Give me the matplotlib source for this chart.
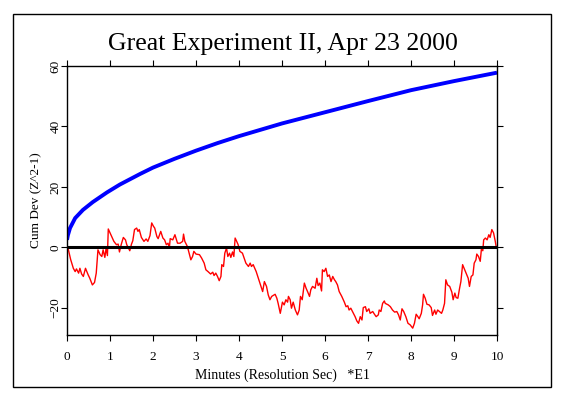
import matplotlib
matplotlib.use("Agg")
import matplotlib.pyplot as plt
from matplotlib.patches import Rectangle

title = "Great Experiment II, Apr 23 2000"
xlabel = "Minutes (Resolution Sec)   *E1"
ylabel = "Cum Dev (Z^2-1)"
xticks = [0, 1, 2, 3, 4, 5, 6, 7, 8, 9, 10]
yticks = [-20, 0, 20, 40, 60]

# probability envelope (blue)
env_t = [0.0, 0.02, 0.07, 0.19, 0.37, 0.6, 0.93, 1.23, 1.7, 2.0, 2.5, 3.0, 3.5, 4.0, 5.0, 6.0, 7.0, 8.0, 9.0, 10.0]
env_v = [2.5, 4.0, 6.4, 9.7, 12.4, 15.0, 18.2, 20.8, 24.3, 26.4, 29.3, 32.0, 34.5, 36.8, 41.0, 44.7, 48.4, 52.0, 55.0, 57.8]

# cumulative deviation (red)
dev_t = [0.0, 0.023, 0.085, 0.147, 0.19, 0.22, 0.27, 0.30, 0.34, 0.38, 0.43, 0.49, 0.53, 0.59, 0.64,
         0.68, 0.72, 0.77, 0.81, 0.84, 0.88, 0.91, 0.94, 0.96, 1.02, 1.09, 1.15, 1.19, 1.22, 1.26,
         1.31, 1.36, 1.39, 1.43, 1.46, 1.50, 1.53, 1.57, 1.62, 1.65, 1.68, 1.73, 1.79, 1.84, 1.88,
         1.93, 1.97, 2.01, 2.04, 2.09, 2.12, 2.18, 2.23, 2.27, 2.31, 2.35, 2.38, 2.40, 2.46, 2.51,
         2.57, 2.63, 2.69, 2.71, 2.74, 2.80, 2.84, 2.88, 2.92, 2.95, 3.00, 3.08, 3.13, 3.19, 3.23,
         3.28, 3.34, 3.39, 3.42, 3.46, 3.50, 3.54, 3.58, 3.60, 3.64, 3.67, 3.71, 3.74, 3.78, 3.81,
         3.85, 3.88, 3.91, 3.94, 3.98, 4.02, 4.08, 4.12, 4.16, 4.22, 4.26, 4.29, 4.33, 4.40, 4.45,
         4.50, 4.55, 4.59, 4.64, 4.68, 4.72, 4.76, 4.84, 4.88, 4.91, 4.96, 4.99, 5.01, 5.05, 5.09,
         5.13, 5.15, 5.19, 5.22, 5.26, 5.31, 5.36, 5.40, 5.43, 5.47, 5.50, 5.52, 5.56, 5.60, 5.64,
         5.67, 5.71, 5.77, 5.81, 5.84, 5.88, 5.92, 5.94, 5.98, 6.02, 6.06, 6.10, 6.14, 6.18, 6.22,
         6.25, 6.29, 6.33, 6.39, 6.45, 6.49, 6.53, 6.56, 6.60, 6.64, 6.70, 6.74, 6.78, 6.82, 6.86,
         6.89, 6.94, 6.97, 7.02, 7.05, 7.11, 7.15, 7.19, 7.24, 7.26, 7.30, 7.34, 7.38, 7.40, 7.47,
         7.52, 7.57, 7.62, 7.67, 7.71, 7.75, 7.79, 7.83, 7.88, 7.93, 7.98, 8.04, 8.08, 8.12, 8.16,
         8.19, 8.24, 8.27, 8.29, 8.33, 8.37, 8.42, 8.47, 8.50, 8.55, 8.58, 8.62, 8.66, 8.71, 8.74,
         8.78, 8.81, 8.85, 8.90, 8.95, 8.98, 9.02, 9.05, 9.09, 9.13, 9.16, 9.20, 9.24, 9.28, 9.33,
         9.36, 9.40, 9.44, 9.47, 9.51, 9.53, 9.57, 9.61, 9.64, 9.67, 9.69, 9.73, 9.77, 9.81, 9.84,
         9.88, 9.92, 9.96, 9.98, 10.0]
dev_v = [0.0, -0.2, -4.0, -6.9, -8.0, -7.1, -8.5, -6.9, -8.8, -9.6, -6.9, -9.0, -10.2, -12.4, -11.6,
         -8.5, -0.8, -2.4, -3.0, -0.8, -3.3, -0.2, -2.7, 6.1, 4.2, 2.0, 0.9, 1.1, -1.5, 0.9,
         3.3, 2.5, 0.9, -0.2, -1.1, 1.1, 2.2, 5.9, 6.4, 5.3, 5.9, 3.3, 2.0, 2.8, 2.0,
         3.9, 8.1, 7.0, 6.4, 3.6, 2.9, 5.3, 3.1, 2.5, 0.9, 1.4, -0.2, 2.9, 2.5, 4.2,
         1.4, 1.4, 2.0, 4.4, 2.0, 0.3, -1.9, -4.1, -3.0, -1.3, -2.2, -2.4, -3.5, -5.2, -7.4,
         -8.0, -8.8, -8.2, -9.3, -8.5, -9.6, -11.0, -9.6, -5.7, -6.3, -1.9, -0.2, -3.0, -1.9, -3.3,
         -1.5, -3.0, 3.1, 2.2, 0.9, -1.3, -1.9, -3.5, -5.2, -6.3, -5.2, -6.3, -5.7, -8.0, -10.2,
         -12.4, -14.6, -11.3, -12.9, -15.7, -17.3, -16.2, -15.5, -16.8, -18.5, -21.8, -19.6, -18.1, -19.0, -17.3,
         -18.1, -16.2, -17.3, -20.1, -18.1, -20.7, -22.3, -20.7, -16.2, -17.3, -14.0, -11.8, -13.5, -14.8, -16.2,
         -14.0, -12.9, -13.5, -10.2, -12.6, -11.8, -14.4, -7.4, -8.0, -6.9, -9.6, -9.1, -11.3, -9.6, -10.7,
         -11.3, -12.4, -14.6, -16.2, -18.1, -19.6, -19.3, -20.7, -20.1, -21.2, -22.9, -24.3, -25.1, -22.9, -24.0,
         -19.9, -19.6, -21.2, -20.3, -21.8, -21.2, -22.1, -22.9, -22.3, -20.7, -21.2, -18.5, -17.7, -18.5, -19.0,
         -19.6, -20.7, -21.4, -21.2, -22.3, -24.0, -20.3, -21.2, -22.9, -25.1, -25.6, -26.7, -25.1, -22.1, -22.9,
         -23.6, -21.8, -19.0, -15.5, -16.8, -18.8, -19.0, -19.9, -22.5, -20.7, -22.1, -20.7, -21.2, -21.8, -20.7,
         -18.5, -10.7, -12.4, -12.9, -14.8, -17.3, -15.1, -16.6, -16.8, -13.5, -11.3, -5.7, -7.1, -8.5, -10.2,
         -12.9, -9.6, -9.1, -5.2, -4.1, -2.2, -3.0, -4.6, -0.2, -1.1, 2.5, 3.1, 2.5, 4.2, 3.3,
         5.9, 4.8, 2.0, 0.3, 0.0]

serif = ["Liberation Serif", "DejaVu Serif"]
plt.rcParams["font.family"] = serif

fig = plt.figure(figsize=(5.64, 3.97), dpi=100)
fig.patches.append(Rectangle((13 / 564, 10 / 397), 538 / 564, 373 / 397, transform=fig.transFigure,
                             fill=False, edgecolor="black", linewidth=1.0))

ax = fig.add_axes([67 / 564, 62.5 / 397, 430 / 564, 268.5 / 397])
ax.plot(env_t, env_v, color="#0000ff", linewidth=2.8, solid_capstyle="butt")
ax.plot(dev_t, dev_v, color="#ff0000", linewidth=1.0)
ax.axhline(0, color="black", linewidth=2.2)

ax.set_xlim(0, 10)
ax.set_ylim(-28.8, 60)
ax.set_xticks(xticks)
ax.set_yticks(yticks)
ax.tick_params(direction="out", length=4, width=0.8, top=True, right=True, labelsize=9.5)
ax.tick_params(axis="x", pad=8)
ax.tick_params(axis="y", pad=0)
for lab in ax.get_yticklabels():
    lab.set_rotation(90)
    lab.set_va("center")
for s in ax.spines.values():
    s.set_linewidth(1.0)

ax.set_xlabel(xlabel, fontsize=10, labelpad=4)
ax.set_ylabel(ylabel, fontsize=9.5, labelpad=5)
fig.text(283 / 564, 1 - 44 / 397, title, ha="center", va="center", fontsize=18.5)

fig.savefig("out.png", dpi=100)
